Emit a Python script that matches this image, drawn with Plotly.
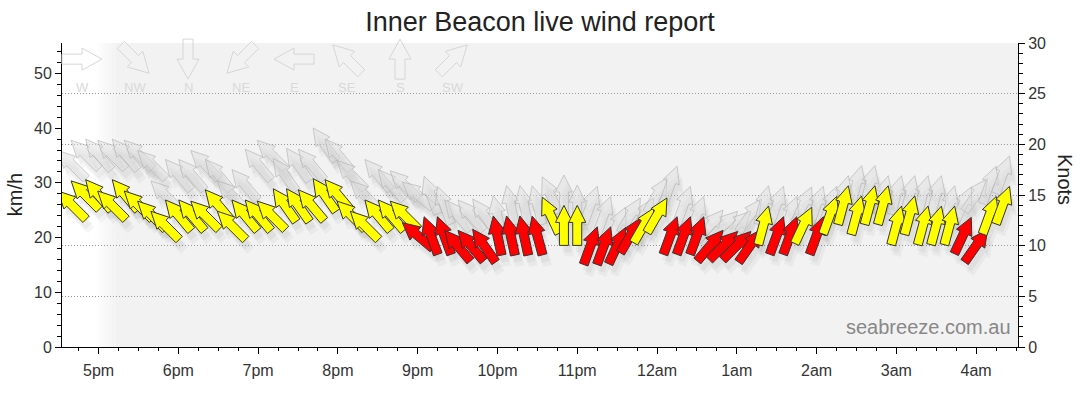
import math
from datetime import datetime, timedelta
import plotly.graph_objects as go

KMH_PER_KNOT = 1.852

# readings every 10 minutes, speeds in knots, direction = where the wind comes from
times = [
    "16:40", "16:50", "17:00", "17:10", "17:20", "17:30", "17:40", "17:50",
    "18:00", "18:10", "18:20", "18:30", "18:40", "18:50", "19:00", "19:10",
    "19:20", "19:30", "19:40", "19:50", "20:00", "20:10", "20:20", "20:30",
    "20:40", "20:50", "21:00", "21:10", "21:20", "21:30", "21:40", "21:50",
    "22:00", "22:10", "22:20", "22:30", "22:40", "22:50", "23:00", "23:10",
    "23:20", "23:30", "23:40", "23:50", "00:00", "00:10", "00:20", "00:30",
    "00:40", "00:50", "01:00", "01:10", "01:20", "01:30", "01:40", "01:50",
    "02:00", "02:10", "02:20", "02:30", "02:40", "02:50", "03:00", "03:10",
    "03:20", "03:30", "03:40", "03:50", "04:00", "04:10", "04:20",
]
speed_kt = [
    14, 15, 15, 14, 15, 14, 13, 12,
    13, 13, 13, 14, 12, 13, 13, 13,
    14, 14, 14, 15, 15, 13, 12, 13,
    13, 13, 11, 11, 11, 10, 10, 10,
    11, 11, 11, 11, 13, 12, 12, 10,
    10, 10, 11, 12, 13, 11, 11, 11,
    10, 10, 10, 10, 12, 11, 11, 12,
    11, 13, 14, 13, 14, 14, 12, 13,
    12, 12, 12, 11, 10, 13, 14,
]
gust_kt = [
    18, 19, 19, 19, 19, 19, 18, 15,
    17, 17, 18, 17, 15, 16, 18, 19,
    17, 18, 18, 20, 19, 17, 15, 17,
    16, 16, 15, 15, 14, 13, 13, 13,
    13, 14, 14, 14, 15, 15, 14, 14,
    13, 12, 13, 13, 15, 16, 14, 13,
    12, 12, 12, 13, 14, 14, 13, 14,
    14, 14, 15, 16, 16, 15, 15, 15,
    15, 15, 14, 14, 15, 16, 17,
]
direction_deg = [
    135, 135, 140, 135, 140, 135, 135, 135,
    140, 140, 135, 140, 135, 140, 140, 135,
    145, 145, 140, 145, 140, 135, 135, 140,
    140, 135, 130, 160, 160, 140, 140, 145,
    168, 168, 168, 165, 155, 180, 180, 200,
    200, 205, 210, 210, 210, 200, 200, 200,
    220, 225, 225, 215, 195, 200, 200, 205,
    200, 200, 195, 195, 195, 195, 195, 195,
    195, 195, 195, 205, 215, 200, 200,
]

x_tick_vals = ["17:00", "18:00", "19:00", "20:00", "21:00", "22:00",
               "23:00", "00:00", "01:00", "02:00", "03:00", "04:00"]
x_tick_text = ["5pm", "6pm", "7pm", "8pm", "9pm", "10pm",
               "11pm", "12am", "1am", "2am", "3am", "4am"]

compass_labels = ["W", "NW", "N", "NE", "E", "SE", "S", "SW"]
compass_from_deg = [270, 315, 0, 45, 90, 135, 180, 225]

BASE = datetime(2024, 1, 1)


def to_dt(hhmm):
    h, m = [int(p) for p in hhmm.split(":")]
    d = BASE + timedelta(hours=h, minutes=m)
    if h < 12:
        d += timedelta(days=1)
    return d.strftime("%Y-%m-%d %H:%M:%S")


def arrow_path(from_deg, length=40, head=17, head_w=8.5, shaft_w=4.5, dx=0.0, dy=0.0):
    # pixel offsets around the anchor, y pointing up
    b = math.radians((from_deg + 180) % 360)
    ux, uy = math.sin(b), math.cos(b)
    px, py = math.cos(b), -math.sin(b)
    half = length / 2
    base = half - head
    pts = [
        (-half, shaft_w), (-half, -shaft_w), (base, -shaft_w), (base, -head_w),
        (half, 0), (base, head_w), (base, shaft_w),
    ]
    out = []
    for a, c in pts:
        out.append("%.2f,%.2f" % (a * ux + c * px + dx, a * uy + c * py + dy))
    return "M" + " L".join(out) + " Z"


def speed_colour(kt):
    return "#ff0000" if kt <= 11 else "#ffff00"


xs = [to_dt(t) for t in times]
speed_kmh = [v * KMH_PER_KNOT for v in speed_kt]
gust_kmh = [v * KMH_PER_KNOT for v in gust_kt]

shapes = []

# shaded background with a soft fade on the left
fade_start = datetime(2024, 1, 1, 16, 58)
steps = 12
for i in range(steps):
    t0 = fade_start + timedelta(seconds=70 * i)
    t1 = t0 + timedelta(seconds=70)
    shapes.append(dict(type="rect", xref="x", yref="paper", layer="below",
                       x0=t0.strftime("%Y-%m-%d %H:%M:%S"), x1=t1.strftime("%Y-%m-%d %H:%M:%S"),
                       y0=0, y1=1, fillcolor="#f2f2f2", opacity=(i + 0.5) / steps,
                       line=dict(width=0)))
shapes.append(dict(type="rect", xref="x", yref="paper", layer="below",
                   x0=(fade_start + timedelta(seconds=70 * steps)).strftime("%Y-%m-%d %H:%M:%S"),
                   x1=to_dt("05:00"), y0=0, y1=1, fillcolor="#f2f2f2", line=dict(width=0)))


def add_arrow(x, y, d, fill, line, xref="x", yref="y", dx=0.0, dy=0.0, width=1, **kw):
    shapes.append(dict(type="path", xref=xref, yref=yref, xsizemode="pixel", ysizemode="pixel",
                       xanchor=x, yanchor=y, path=arrow_path(d, dx=dx, dy=dy, **kw),
                       fillcolor=fill, line=dict(color=line, width=width)))


# gusts
for x, g, d in zip(xs, gust_kmh, direction_deg):
    add_arrow(x, g, d, "rgba(0,0,0,0.035)", "rgba(0,0,0,0)", dx=3, dy=-7, width=0)
    add_arrow(x, g, d, "rgba(0,0,0,0.03)", "rgba(0,0,0,0)", dx=5, dy=-11, width=0)
for x, g, d in zip(xs, gust_kmh, direction_deg):
    add_arrow(x, g, d, "rgba(220,220,220,0.45)", "rgba(175,175,175,0.6)")

# average wind
for x, v, d in zip(xs, speed_kmh, direction_deg):
    add_arrow(x, v, d, "rgba(0,0,0,0.04)", "rgba(0,0,0,0)", dx=3, dy=-7, width=0)
    add_arrow(x, v, d, "rgba(0,0,0,0.035)", "rgba(0,0,0,0)", dx=5, dy=-11, width=0)
for x, v, k, d in zip(xs, speed_kmh, speed_kt, direction_deg):
    add_arrow(x, v, d, speed_colour(k), "#333333")

# compass key
annotations = []
plot_w = 1080 - 62 - 62
for i, (lab, d) in enumerate(zip(compass_labels, compass_from_deg)):
    px = (20 + 53 * i) / plot_w
    add_arrow(px, 0.947, d, "rgba(255,255,255,0)", "#d6d6d6", xref="paper", yref="paper",
              head=20, head_w=11, shaft_w=5)
    annotations.append(dict(x=px, y=0.855, xref="paper", yref="paper", text=lab,
                            xanchor="center", yanchor="middle",
                            showarrow=False, font=dict(size=13, color="#d9d9d9")))

annotations += [
    dict(x=-0.049, y=0.5, xref="paper", yref="paper", text="km/h", textangle=-90,
         xanchor="center", yanchor="middle",
         showarrow=False, font=dict(size=20, color="#222")),
    dict(x=1.049, y=0.55, xref="paper", yref="paper", text="Knots", textangle=90,
         xanchor="center", yanchor="middle",
         showarrow=False, font=dict(size=20, color="#222")),
    dict(x=0.995, y=0.022, xref="paper", yref="paper", xanchor="right", yanchor="bottom",
         text="seabreeze.com.au", showarrow=False, font=dict(size=20, color="#888888")),
]

fig = go.Figure()
fig.add_trace(go.Scatter(x=xs, y=speed_kmh, mode="markers", marker=dict(opacity=0),
                         customdata=direction_deg, name="Wind",
                         hovertemplate="%{y:.0f} km/h from %{customdata}°<extra></extra>"))
fig.add_trace(go.Scatter(x=xs, y=gust_kt, yaxis="y2", mode="markers", marker=dict(opacity=0),
                         name="Gust", hovertemplate="gust %{y} kt<extra></extra>"))

axis_font = dict(size=16, color="#333")
fig.update_layout(
    width=1080, height=414,
    margin=dict(l=62, r=62, t=43, b=67),
    paper_bgcolor="white", plot_bgcolor="white",
    font=dict(family="Arial, Liberation Sans, sans-serif", color="#333"),
    title=dict(text="Inner Beacon live wind report", x=0.5, xanchor="center",
               y=0.947, yanchor="middle", font=dict(size=27, color="#222")),
    showlegend=False,
    shapes=shapes,
    annotations=annotations,
    xaxis=dict(
        type="date", range=["2024-01-01 16:32:30", "2024-01-02 04:31:30"],
        tickmode="array", tickvals=[to_dt(t) for t in x_tick_vals], ticktext=x_tick_text,
        ticks="outside", ticklen=6, tickcolor="black", tickfont=axis_font,
        ticklabelstandoff=3,
        showline=True, linecolor="black", linewidth=1, showgrid=False, zeroline=False,
        minor=dict(tickmode="linear", tick0=to_dt("17:00"), dtick=15 * 60 * 1000,
                   ticks="outside", ticklen=3, tickcolor="black", showgrid=False),
    ),
    yaxis=dict(
        range=[0, 30 * KMH_PER_KNOT], dtick=10, tick0=0,
        ticks="outside", ticklen=6, tickcolor="black", tickfont=axis_font,
        showline=True, linecolor="black", linewidth=1, showgrid=False, zeroline=False,
        minor=dict(dtick=2, ticks="outside", ticklen=4, tickcolor="black", showgrid=False),
    ),
    yaxis2=dict(
        range=[0, 30], dtick=5, tick0=0, overlaying="y", side="right", anchor="x",
        ticks="outside", ticklen=6, tickcolor="black", tickfont=axis_font,
        showline=True, linecolor="black", linewidth=1, zeroline=False,
        showgrid=True, gridcolor="#999999", griddash="1px,2px", gridwidth=1,
        minor=dict(dtick=1, ticks="outside", ticklen=4, tickcolor="black", showgrid=False),
    ),
)

fig.write_html("out.html", config={"displayModeBar": False},
               post_script="document.body.style.margin = '0';")
